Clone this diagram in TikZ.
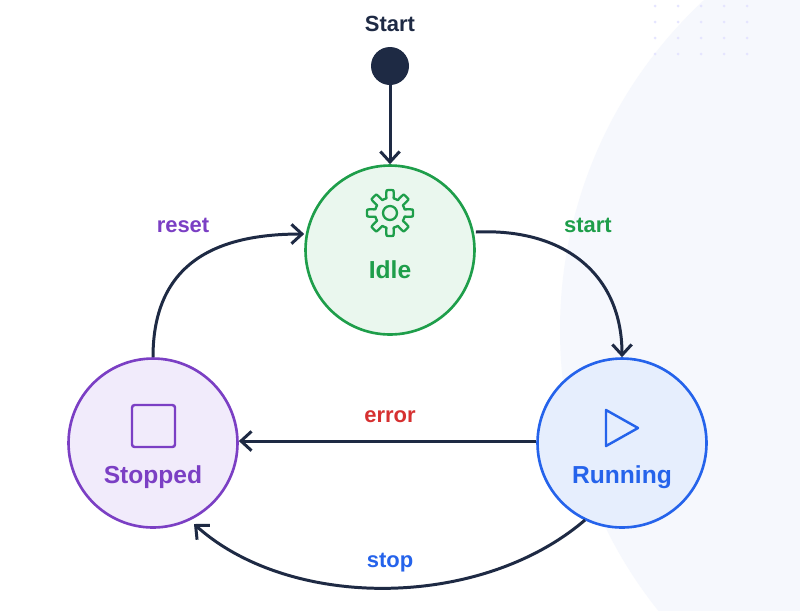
\documentclass[tikz,border=0pt]{standalone}
\usepackage{fontspec}
\setmainfont{Liberation Sans}
\usetikzlibrary{arrows.meta}
\begin{document}
\begin{tikzpicture}[x=0.02cm,y=-0.02cm,
 st/.style={circle,line width=1.5pt,minimum size=3.38cm,inner sep=0pt},
 lab/.style={font=\fontsize{12.5}{14}\selectfont\bfseries},
 arr/.style={draw=navy,line width=1.7pt,-{Straight Barb[length=6pt,width=11pt]}}]
\definecolor{navy}{HTML}{1E2A44}
\definecolor{gr}{HTML}{1E9E4A}\definecolor{grf}{HTML}{EAF7EE}
\definecolor{pu}{HTML}{7B3FC4}\definecolor{puf}{HTML}{F1EBFB}
\definecolor{bl}{HTML}{2563EB}\definecolor{blf}{HTML}{E6EEFD}
\definecolor{rd}{HTML}{D63030}
\definecolor{bgc}{HTML}{F6F8FD}
\useasboundingbox (0,0) rectangle (800,610);
\fill[white] (0,0) rectangle (800,610);
\begin{scope}
\clip (0,0) rectangle (800,610);
\fill[bgc] (1010,330) circle (450);
\end{scope}
\foreach \i in {0,...,4}\foreach \j in {0,...,3}
 \fill[blue!10] (655+\i*23,6+\j*16) circle (1.5);
\node[font=\fontsize{12.5}{14}\selectfont\bfseries,text=navy] (startl) at (390,24) {Start};
\node[circle,fill=navy,minimum size=0.76cm,inner sep=0pt] (init) at (390,66) {};
\node[st,draw=gr,fill=grf] (idle) at (390,250) {};
\node[st,draw=pu,fill=puf] (stop) at (153,443) {};
\node[st,draw=bl,fill=blf] (run) at (622,443) {};
\node[font=\fontsize{14}{16}\selectfont\bfseries,text=gr] (tidle) at (390,270) {Idle};
\node[font=\fontsize{14}{16}\selectfont\bfseries,text=pu] (tstop) at (153,477) {Stopped};
\node[font=\fontsize{14}{16}\selectfont\bfseries,text=bl] (trun) at (622,477) {Running};
% icons
\draw[gr,line width=1.3pt,line join=round] plot[domain=0:360,samples=240] ({390+cos(\x)*(19+4*min(1,max(-1,3*cos(8*\x))))},{213+sin(\x)*(19+4*min(1,max(-1,3*cos(8*\x))))}) -- cycle;
\draw[gr,line width=1.3pt] (390,213) circle (7);
\draw[pu,line width=1.4pt,rounded corners=1.5pt] (132,405) rectangle (175,447);
\draw[bl,line width=1.4pt,line join=round] (606,410) -- (638,428) -- (606,446) -- cycle;
% edges
\draw[arr] (init) -- (idle);
\draw[arr] (stop.north) .. controls (153,260) and (220,234) .. (idle.west |- 0,234);
\draw[arr] (idle.east |- 0,232) .. controls (565,228) and (622,275) .. (run.north);
\draw[arr] (run.west |- 0,441) -- (stop.east |- 0,441);
\coordinate (s1) at (585,520);
\coordinate (s2) at (194,524);
\draw[arr] (s1) .. controls (480,610) and (290,610) .. (s2);
\node[lab,text=pu] (lreset) at (183,225) {reset};
\node[lab,text=gr] (lstart) at (588,225) {start};
\node[lab,text=rd] (lerr) at (390,417) {error};
\node[lab,text=bl] (lstopl) at (390,563) {stop};
\end{tikzpicture}
\end{document}
